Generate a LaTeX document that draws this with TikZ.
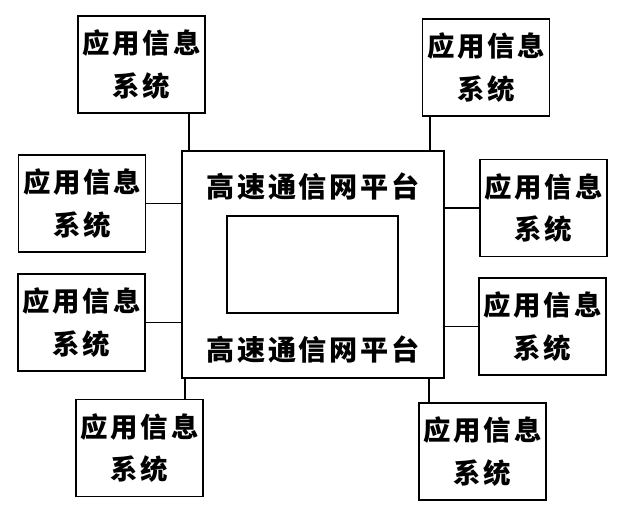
\documentclass[tikz,border=0pt]{standalone}
\usepackage{fontspec}
\newfontfamily\cjk[LetterSpace=10]{Noto Sans CJK SC}

\begin{document}
\begin{tikzpicture}[x=0.025cm, y=-0.025cm, app/.style={draw, line width=0.9pt, minimum width=3.175cm, minimum height=2.425cm, inner sep=0pt, align=center, font=\cjk\bfseries\fontsize{19.5}{30}\selectfont}, title/.style={inner sep=0pt, font=\cjk\bfseries\fontsize{20}{24}\selectfont}, link/.style={line width=1.4pt}]
    \useasboundingbox (0,0) rectangle (634,518);

    % platform in the middle
    \node[draw, line width=0.9pt, minimum width=6.55cm, minimum height=5.675cm] (net) at (313,264.5) {};
    \node[draw, line width=0.9pt, minimum width=4.275cm, minimum height=2.425cm] (scr) at (312.5,264.5) {};
    \node[title] (t1) at (313,187) {高速通信网平台};
    \node[title] (t2) at (313,350) {高速通信网平台};

    % application systems
    \node[app] (tl) at (141.5,64.5) {应用信息\\系统};
    \node[app] (tr) at (486,67.5) {应用信息\\系统};
    \node[app] (lu) at (82,203.5) {应用信息\\系统};
    \node[app] (ru) at (543.5,208) {应用信息\\系统};
    \node[app] (ll) at (81.5,322.5) {应用信息\\系统};
    \node[app] (rl) at (542.5,326.5) {应用信息\\系统};
    \node[app] (bl) at (139.5,448) {应用信息\\系统};
    \node[app] (br) at (482.5,451.5) {应用信息\\系统};

    \coordinate (ntl) at ([xshift=0.2cm]net.north west);
    \coordinate (ntr) at ([xshift=-0.375cm]net.north east);
    \coordinate (nbl) at ([xshift=0.1cm]net.south west);
    \coordinate (nbr) at ([xshift=-0.4cm]net.south east);

    \draw[link] (ntl) -- (ntl |- tl.south);
    \draw[link] (ntr) -- (ntr |- tr.south);
    \draw[link] (nbl) -- (nbl |- bl.north);
    \draw[link] (nbr) -- (nbr |- br.north);
    \draw[link] (lu.east) -- (lu.east -| net.west);
    \draw[link] (ll.east) -- (ll.east -| net.west);
    \draw[link] (ru.west) -- (ru.west -| net.east);
    \draw[link] (rl.west) -- (rl.west -| net.east);
\end{tikzpicture}
\end{document}
